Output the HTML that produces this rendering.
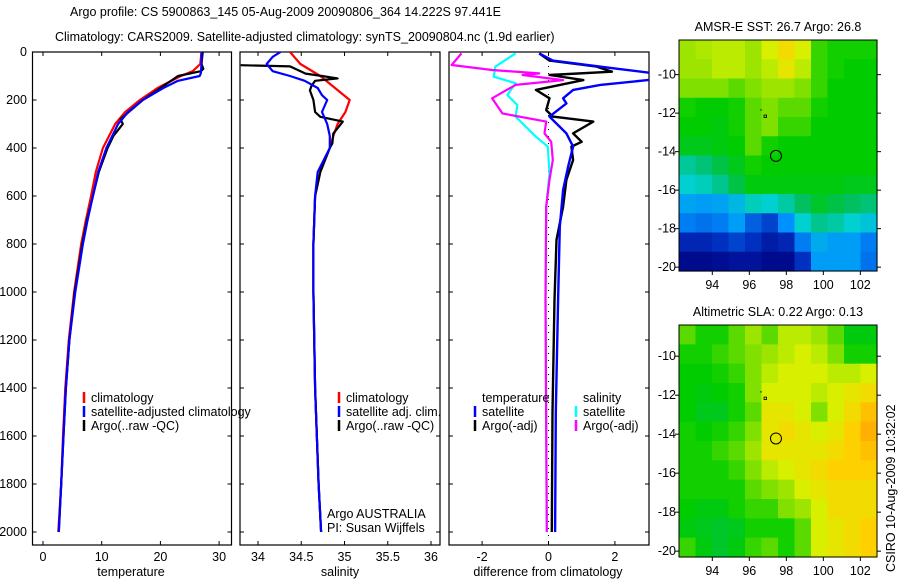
<!DOCTYPE html>
<html><head><meta charset="utf-8"><style>
html,body{margin:0;padding:0;background:#fff;}
svg{display:block;font-family:"Liberation Sans",sans-serif;}
text{font-size:12.5px;fill:#000;}
</style></head><body>
<svg id="fig" width="900" height="580" viewBox="0 0 900 580">
<text x="70" y="16" font-size="13">Argo profile: CS 5900863_145 05-Aug-2009 20090806_364 14.222S 97.441E</text>
<text x="55" y="41" font-size="13">Climatology: CARS2009. Satellite-adjusted climatology: synTS_20090804.nc (1.9d earlier)</text>
<text x="0" y="0" transform="translate(895,572) rotate(-90)">CSIRO 10-Aug-2009 10:32:02</text>
</svg>
<script>
// ---- data ----
const depthTicks=[0,200,400,600,800,1000,1200,1400,1600,1800,2000];
const tempTicks=[0,10,20,30];
const salTicks=[34,34.5,35,35.5,36];
const diffTicks=[-2,0,2];
const lonTicks=[94,96,98,100,102];
const latTicks=[-10,-12,-14,-16,-18,-20];

const tDepthClim=[0,50,80,100,150,200,250,300,400,500,600,700,800,1000,1200,1400,1600,1800,2000];
const tClim=[27.0,26.8,25.5,23.5,19.5,16.5,14.0,12.3,10.2,9.0,8.2,7.3,6.5,5.3,4.4,3.8,3.4,3.1,2.6];
const tDepthSat=[0,50,88,100,120,150,200,250,300,400,500,600,700,800,1000,1200,1400,1600,1800,2000];
const tSat=[27.0,27.0,26.9,26.7,23.0,20.5,17.0,14.5,12.8,10.8,9.4,8.5,7.6,6.8,5.5,4.5,3.9,3.5,3.1,2.7];
const tDepthArgo=[0,50,70,80,100,150,200,250,280,300,350,400,500,600,700,800,1000,1200,1400,1600,1800,2000];
const tArgo=[27.2,27.0,27.3,26.9,23.0,20.0,17.0,14.6,13.2,13.6,12.0,11.0,9.5,8.5,7.5,6.7,5.4,4.5,3.9,3.5,3.1,2.7];

const sDepthClim=[0,50,100,150,200,250,300,350,400,500,600,800,1000,1400,1800,2000];
const sClim=[34.37,34.49,34.72,34.89,35.06,35.01,34.92,34.87,34.83,34.72,34.66,34.64,34.64,34.66,34.70,34.73];
const sDepthSat=[0,20,50,80,100,120,150,180,200,250,300,350,400,500,600,800,1000,1400,1800,2000];
const sSat=[34.26,34.17,34.10,34.17,34.37,34.54,34.69,34.74,34.80,34.74,34.80,34.83,34.83,34.69,34.66,34.64,34.64,34.66,34.70,34.73];
const sDepthArgo=[55,60,90,100,110,120,140,160,200,250,270,290,340,380,400,500,600,800,1000,1400,1800,2000];
const sArgo=[33.8,34.37,34.55,34.74,34.92,34.66,34.62,34.60,34.64,34.66,34.72,34.98,34.87,34.86,34.83,34.72,34.66,34.64,34.64,34.66,34.70,34.73];

const dDepthTArgo=[6,36,61,82,96,117,158,193,242,269,290,339,374,394,450,533,644,783,1033,1500,2000];
const dTArgo=[-0.28,0.03,1.45,1.91,0.03,1.05,-0.38,0.03,-0.07,0.13,1.35,0.74,1.0,0.69,0.74,0.54,0.44,0.24,0.18,0.12,0.1];
const dDepthTSat=[6,36,68,89,114,137,158,193,214,269,339,394,478,575,728,1033,1500,2000];
const dTSat=[-0.28,0.13,1.96,3.2,3.2,1.56,0.74,0.44,0.54,0.03,0.54,0.74,0.59,0.44,0.34,0.29,0.22,0.2];
const dDepthSSat=[6,61,103,130,179,221,269,353,394,506,644,1033,2000];
const dSSat=[-0.99,-1.6,-1.65,-0.99,-1.24,-0.94,-0.99,-0.38,-0.02,0.03,-0.07,-0.09,-0.05];
const dDepthSArgo=[6,54,75,89,96,117,137,193,256,290,339,374,450,533,644,1033,2000];
const dSArgo=[-2.62,-2.92,-1.7,-0.28,-0.78,0.44,-0.99,-1.7,-1.39,-0.07,-0.12,0.08,0.13,0.03,-0.07,-0.09,-0.05];

const sstGrid=[
[0.66,0.67,0.68,0.68,0.66,0.70,0.74,0.70,0.60,0.58,0.58,0.58],
[0.66,0.66,0.68,0.68,0.66,0.68,0.72,0.68,0.60,0.58,0.57,0.57],
[0.64,0.64,0.64,0.62,0.64,0.66,0.66,0.64,0.60,0.57,0.57,0.57],
[0.58,0.57,0.57,0.58,0.62,0.64,0.62,0.62,0.58,0.57,0.57,0.57],
[0.57,0.57,0.56,0.58,0.62,0.64,0.60,0.60,0.57,0.57,0.57,0.57],
[0.55,0.55,0.56,0.57,0.62,0.58,0.57,0.57,0.57,0.57,0.57,0.57],
[0.45,0.48,0.52,0.55,0.58,0.57,0.57,0.57,0.57,0.57,0.57,0.57],
[0.40,0.42,0.46,0.52,0.56,0.56,0.56,0.56,0.56,0.56,0.55,0.55],
[0.33,0.32,0.33,0.36,0.42,0.40,0.44,0.50,0.54,0.52,0.50,0.48],
[0.28,0.27,0.28,0.32,0.25,0.22,0.30,0.40,0.46,0.44,0.40,0.38],
[0.18,0.18,0.20,0.22,0.20,0.16,0.18,0.28,0.34,0.32,0.32,0.28],
[0.12,0.12,0.13,0.14,0.14,0.12,0.12,0.20,0.32,0.32,0.32,0.27]];
const slaGrid=[
[0.62,0.58,0.58,0.62,0.66,0.62,0.68,0.68,0.66,0.62,0.56,0.56],
[0.58,0.58,0.60,0.62,0.64,0.66,0.68,0.70,0.68,0.64,0.58,0.58],
[0.57,0.57,0.58,0.60,0.64,0.68,0.70,0.70,0.70,0.68,0.68,0.70],
[0.57,0.56,0.57,0.58,0.64,0.70,0.70,0.70,0.68,0.70,0.72,0.74],
[0.57,0.55,0.55,0.58,0.62,0.72,0.72,0.70,0.64,0.70,0.74,0.78],
[0.58,0.57,0.58,0.60,0.64,0.72,0.74,0.72,0.70,0.72,0.76,0.80],
[0.58,0.58,0.60,0.62,0.66,0.72,0.72,0.72,0.72,0.74,0.76,0.78],
[0.58,0.58,0.58,0.60,0.64,0.68,0.70,0.72,0.74,0.76,0.76,0.76],
[0.58,0.58,0.58,0.58,0.62,0.64,0.66,0.70,0.72,0.74,0.74,0.74],
[0.57,0.56,0.56,0.58,0.60,0.60,0.64,0.66,0.70,0.74,0.74,0.74],
[0.56,0.55,0.54,0.55,0.58,0.58,0.58,0.62,0.70,0.72,0.74,0.76],
[0.60,0.56,0.54,0.56,0.60,0.62,0.58,0.62,0.70,0.72,0.74,0.76]];
const floatLon=[97.44];
const floatLat=[-14.22];

// ---- drawing ----
const NS='http://www.w3.org/2000/svg';
const svg=document.getElementById('fig');
function mk(tag,attrs,parent){const e=document.createElementNS(NS,tag);for(const k in attrs)e.setAttribute(k,attrs[k]);(parent||svg).appendChild(e);return e;}
const Y0=52, YK=0.24, YB=545;
const yD=d=>Y0+d*YK;
const xT=t=>43+t*5.87;
const xS=s=>258+(s-34)*86.5;
const xDf=d=>548.5+d*33.2;

function frame(x0,x1,name,ticks,fx,ylabels){
  const r=mk('rect',{x:x0,y:Y0,width:x1-x0,height:YB-Y0,fill:'none',stroke:'#000','stroke-width':1.2});
  
  
  depthTicks.forEach(d=>{
    mk('line',{x1:x0,x2:x0+4,y1:yD(d),y2:yD(d),stroke:'#000'});
    mk('line',{x1:x1,x2:x1-4,y1:yD(d),y2:yD(d),stroke:'#000'});
    if(ylabels){const t=mk('text',{x:27,y:yD(d)+4,'text-anchor':'end'});t.textContent=d;
      
      }
  });
  ticks.forEach(v=>{const x=fx(v);
    mk('line',{x1:x,x2:x,y1:YB,y2:YB-4,stroke:'#000'});
    mk('line',{x1:x,x2:x,y1:Y0,y2:Y0+4,stroke:'#000'});
    const t=mk('text',{x:x,y:561,'text-anchor':'middle'});t.textContent=v;
    
    
  });
}
function line(fx,vals,depths,color,name,w,clip){
  const pts=vals.map((v,i)=>fx(v).toFixed(1)+','+yD(depths[i]).toFixed(1)).join(' ');
  const p=mk('polyline',{points:pts,fill:'none',stroke:color,'stroke-width':w||2.2,'stroke-linejoin':'round'});
  if(clip)p.setAttribute('clip-path','url(#'+clip+')');
  
  
}
function txt(x,y,s,name,anchor){const t=mk('text',{x:x,y:y,'text-anchor':anchor||'start'});t.textContent=s;
  
  return t;}
function mark(x,y,c){mk('line',{x1:x,x2:x,y1:y-6,y2:y+5,stroke:c,'stroke-width':2.5});}

const defs=mk('defs',{});
const cp=mk('clipPath',{id:'c3'},defs);mk('rect',{x:449,y:Y0,width:200,height:YB-Y0},cp);
const cp2=mk('clipPath',{id:'c2'},defs);mk('rect',{x:240,y:Y0,width:200,height:YB-Y0},cp2);

// panel 1 temperature
frame(32.5,231.5,'temperature',tempTicks,xT,true);
line(xT,tClim,tDepthClim,'#f00','temp-climatology-line');
line(xT,tArgo,tDepthArgo,'#000','temp-argo-line');
line(xT,tSat,tDepthSat,'#00f','temp-satellite-line');
txt(131,576,'temperature','temperature-axis-title','middle');
mark(84,398,'#f00');txt(91,402,'climatology','legend-climatology');
mark(84,412,'#00f');txt(91,416,'satellite-adjusted climatology','legend-satellite');
mark(84,426,'#000');txt(91,430,'Argo(..raw -QC)','legend-argo');

// panel 2 salinity
frame(240,440,'salinity',salTicks,xS,false);
line(xS,sClim,sDepthClim,'#f00','sal-climatology-line',2.2,'c2');
line(xS,sArgo,sDepthArgo,'#000','sal-argo-line',2.2,'c2');
line(xS,sSat,sDepthSat,'#00f','sal-satellite-line',2.2,'c2');
txt(340,576,'salinity','salinity-axis-title','middle');
mark(339,398,'#f00');txt(346,402,'climatology','legend-sal-climatology');
mark(339,412,'#00f');txt(346,416,'satellite adj. clim.','legend-sal-satellite');
mark(339,426,'#000');txt(346,430,'Argo(..raw -QC)','legend-sal-argo');
txt(327,518,'Argo AUSTRALIA','data-centre-label');
txt(327,532,'PI: Susan Wijffels','pi-label');

// panel 3 differences
frame(449,649,'difference',diffTicks,xDf,false);
mk('line',{x1:xDf(0),x2:xDf(0),y1:Y0,y2:YB,stroke:'#000','stroke-dasharray':'1,6'});
line(xDf,dSSat,dDepthSSat,'#0ff','diff-sal-satellite-line',2.2,'c3');
line(xDf,dSArgo,dDepthSArgo,'#f0f','diff-sal-argo-line',2.2,'c3');
line(xDf,dTArgo,dDepthTArgo,'#000','diff-temp-argo-line',2.4,'c3');
line(xDf,dTSat,dDepthTSat,'#00f','diff-temp-satellite-line',2.4,'c3');
txt(548,576,'difference from climatology','difference-axis-title','middle');
txt(482,402,'temperature','legend-temperature-header');
mark(475,412,'#00f');txt(482,416,'satellite','legend-temp-satellite');
mark(475,426,'#000');txt(482,430,'Argo(-adj)','legend-temp-argo');
txt(583,402,'salinity','legend-salinity-header');
mark(576,412,'#0ff');txt(583,416,'satellite','legend-sal-sat-diff');
mark(576,426,'#f0f');txt(583,430,'Argo(-adj)','legend-sal-argo-diff');

// maps
const stops=[[0.10,[0,0,128]],[0.20,[0,48,192]],[0.30,[0,144,255]],[0.40,[0,208,208]],[0.50,[0,192,96]],[0.57,[0,204,0]],[0.64,[128,224,0]],[0.70,[216,240,0]],[0.76,[255,208,0]],[0.82,[255,160,0]]];
function cmap(v){if(v<=stops[0][0])return 'rgb('+stops[0][1]+')';
  for(let i=1;i<stops.length;i++){if(v<=stops[i][0]){const a=stops[i-1],b=stops[i],f=(v-a[0])/(b[0]-a[0]);
    return 'rgb('+a[1].map((c,j)=>Math.round(c+(b[1][j]-c)*f)).join(',')+')';}}
  return 'rgb('+stops[stops.length-1][1]+')';}
const LON0=92.2,LON1=102.9;
function drawMap(grid,top,bot,latTop,latBot,name,title){
  const x0=679,x1=877;
  const xL=l=>x0+(l-LON0)/(LON1-LON0)*(x1-x0);
  const yL=l=>top+(latTop-l)/(latTop-latBot)*(bot-top);
  const nr=grid.length,nc=grid[0].length,cw=(x1-x0)/nc,ch=(bot-top)/nr;
  const g=mk('g',{});
  
  
  grid.forEach((row,i)=>row.forEach((v,j)=>{
    mk('rect',{x:x0+j*cw,y:top+i*ch,width:cw+0.6,height:ch+0.6,fill:cmap(v)},g);
  }));
  const fr=mk('rect',{x:x0,y:top,width:x1-x0,height:bot-top,fill:'none',stroke:'#000'});
  
  
  lonTicks.forEach(l=>{mk('line',{x1:xL(l),x2:xL(l),y1:bot,y2:bot+4,stroke:'#000'});
    txt(xL(l),bot+18,l,name+'-lon-label','middle');});
  latTicks.forEach(l=>{mk('line',{x1:x0,x2:x0-4,y1:yL(l),y2:yL(l),stroke:'#000'});
    mk('line',{x1:x1,x2:x1+4,y1:yL(l),y2:yL(l),stroke:'#000'});
    txt(x0-3,yL(l)+4,'-'+(-l),name+'-lat-label','end');});
  floatLon.forEach((lo,i)=>{const c=mk('circle',{cx:xL(lo),cy:yL(floatLat[i]),r:5.5,fill:'none',stroke:'#000'});
    
    });
  mk('rect',{x:xL(96.85)-1,y:yL(-12.15)-1,width:2.5,height:2.5,fill:'none',stroke:'#000','stroke-width':0.8});
  mk('rect',{x:xL(96.6),y:yL(-11.8),width:1.2,height:1.2,fill:'#000'});
  txt(778,top-9,title,name+'-title','middle');
}
drawMap(sstGrid,40,271,-8.2,-20.2,'sst-map','AMSR-E SST: 26.7 Argo: 26.8');
drawMap(slaGrid,325,557,-8.4,-20.3,'sla-map','Altimetric SLA: 0.22 Argo: 0.13');
</script>
</body></html>
